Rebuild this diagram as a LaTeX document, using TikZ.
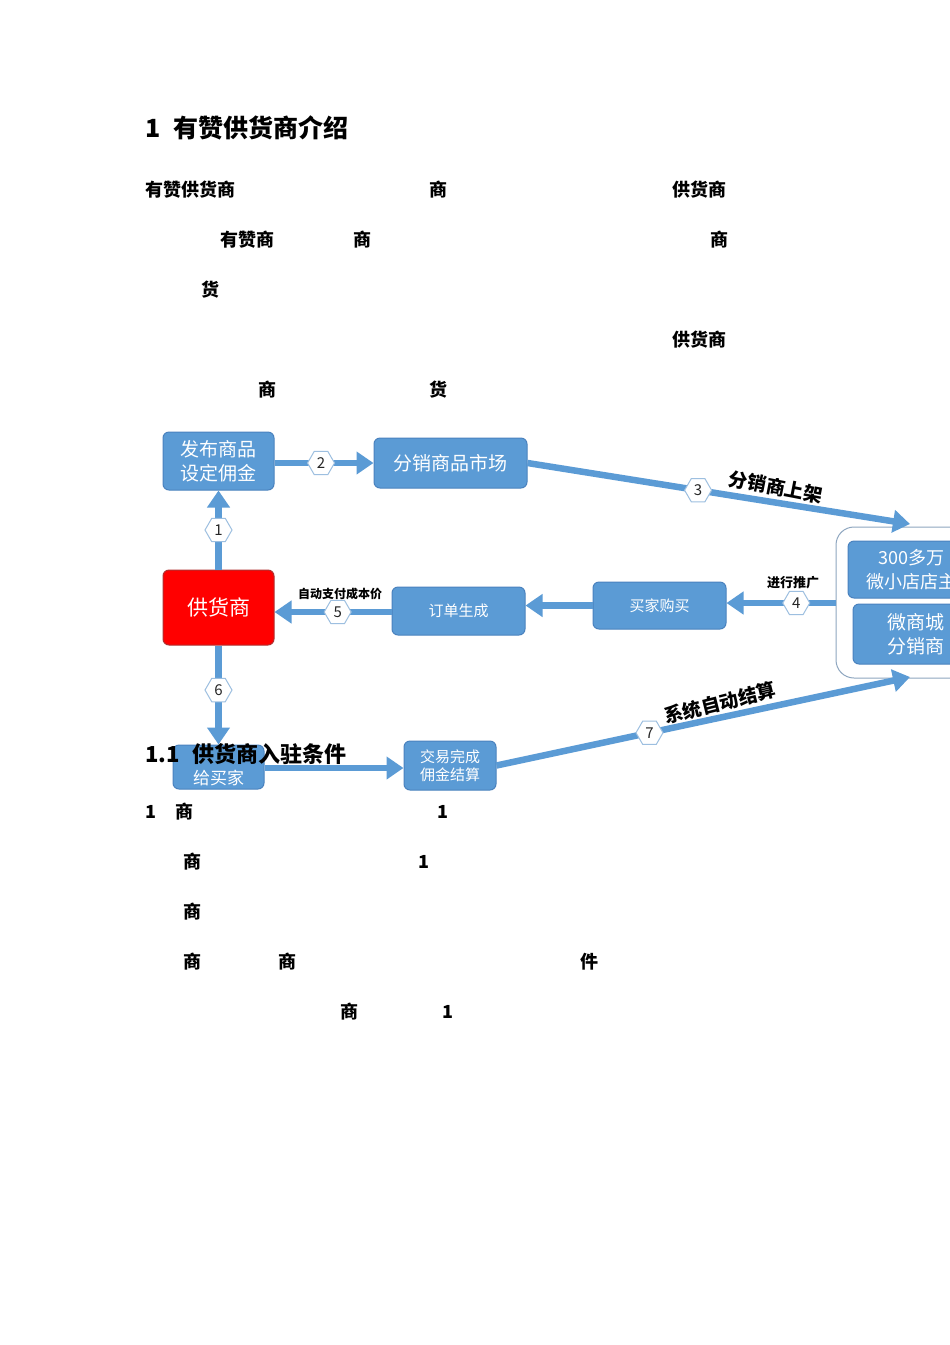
\documentclass[tikz,border=0pt]{standalone}
\usepackage{fontspec}
\setmainfont{Noto Sans CJK SC}
\usetikzlibrary{arrows.meta,shapes.geometric}
\definecolor{boxblue}{HTML}{5B9BD5}
\definecolor{boxline}{HTML}{4A82BE}
\definecolor{flowblue}{HTML}{5B9BD5}
\definecolor{hexline}{HTML}{9DBFE0}
\definecolor{redfill}{HTML}{FF0000}
\definecolor{redline}{HTML}{B03030}
\definecolor{frameline}{HTML}{8EA6C0}
\begin{document}
\begin{tikzpicture}[x=1pt,y=-1pt,
  box/.style={draw=boxline, fill=boxblue, rounded corners=6pt, line width=1pt,
    text=white, align=center, inner sep=0pt},
  hexnum/.style={shape=regular polygon, regular polygon sides=6, draw=hexline,
    fill=white, line width=1pt, minimum size=27pt, inner sep=0pt,
    font=\fontsize{15}{15}\selectfont, text=black!85},
  flow/.style={draw=flowblue, line width=6.5pt, -{Triangle[width=22pt,length=17pt]}},
  tag/.style={font=\bfseries\fontsize{13}{13}\selectfont, text=black},
  slant/.style={font=\bfseries\fontsize{19}{19}\selectfont, text=black},
  body/.style={anchor=west, font=\bfseries\fontsize{18}{18}\selectfont, text=black, inner sep=0pt},
  head/.style={anchor=west, inner sep=0pt, text=black}]
\useasboundingbox (0,0) rectangle (950,1345);
\fill[white] (0,0) rectangle (950,1345);

% section heading and text fragments above the chart
\node[head, font=\bfseries\fontsize{25}{25}\selectfont] (h1) at (145,128) {1\hspace{13pt}有赞供货商介绍};
\node[body] (a1) at (145,190) {有赞供货商};
\node[body] (a2) at (429,190) {商};
\node[body] (a3) at (672,190) {供货商};
\node[body] (b1) at (220,240) {有赞商};
\node[body] (b2) at (353,240) {商};
\node[body] (b3) at (710,240) {商};
\node[body] (c1) at (201,290) {货};
\node[body] (d1) at (672,340) {供货商};
\node[body] (e1) at (258,390) {商};
\node[body] (e2) at (429,390) {货};

% chart boxes
\node[box, minimum width=111pt, minimum height=58pt,
  font=\fontsize{19}{24}\selectfont] (pub) at (218.5,461) {发布商品\\设定佣金};
\node[box, minimum width=153pt, minimum height=50pt,
  font=\fontsize{19}{19}\selectfont] (pm) at (450.5,463) {分销商品市场};
\node[box, draw=redline, fill=redfill, minimum width=111pt, minimum height=75pt,
  font=\fontsize{21}{21}\selectfont] (sup) at (218.5,607.5) {供货商};
\node[box, minimum width=133pt, minimum height=48pt,
  font=\fontsize{15}{15}\selectfont] (ord) at (458.5,611) {订单生成};
\node[box, minimum width=133pt, minimum height=47pt,
  font=\fontsize{15}{15}\selectfont] (buy) at (659.5,605.5) {买家购买};
\node[draw=frameline, fill=white, rounded corners=18pt, line width=1pt,
  minimum width=160pt, minimum height=151pt] (mall) at (916,602.5) {};
\node[box, minimum width=127pt, minimum height=57pt,
  font=\fontsize{18}{24}\selectfont] (shop) at (911.5,569.5) {300多万\\微小店店主};
\node[box, minimum width=125pt, minimum height=60pt,
  font=\fontsize{19}{24}\selectfont] (dist) at (915.5,634) {微商城\\分销商};
\node[box, minimum width=91pt, minimum height=44pt,
  font=\fontsize{17}{22}\selectfont] (give) at (218.5,767) {\vphantom{给}\\给买家};
\node[box, minimum width=92pt, minimum height=49pt,
  font=\fontsize{15}{18}\selectfont] (deal) at (450,765.5) {交易完成\\佣金结算};

% free ends of the two long arrows
\coordinate (in3) at (910,524);
\coordinate (in7) at (910,677);

% connectors
\draw[flow] (sup.north) -- node[hexnum, pos=0.5] (n1) {1} (pub.south);
\draw[flow] (pub.east |- pm.west) -- node[hexnum, pos=0.47] (n2) {2} (pm.west);
\draw[flow] (pm.east) -- node[hexnum, pos=0.446] (n3) {3} (in3);
\draw[flow] (mall.west |- 0,603) -- node[hexnum, pos=0.36] (n4) {4} (buy.east |- 0,603);
\draw[flow] (buy.west) -- (ord.east |- buy.west);
\draw[flow] (ord.west |- 0,612) -- node[hexnum, pos=0.46] (n5) {5} (sup.east |- 0,612);
\draw[flow] (sup.south) -- node[hexnum, pos=0.45] (n6) {6} (give.north);
\draw[flow] (give.east |- 0,768) -- (deal.west |- 0,768);
\draw[flow] (deal.east) -- node[hexnum, pos=0.37] (n7) {7} (in7);

% connector captions
\node[slant, rotate=-11] (l3) at (776,487) {分销商上架};
\node[tag] (l4) at (793,583) {进行推广};
\node[tag, font=\bfseries\fontsize{12}{12}\selectfont] (l5) at (340,594) {自动支付成本价};
\node[slant, rotate=14] (l7) at (720,703) {系统自动结算};

% subsection heading and text fragments below the chart
\node[head, font=\bfseries\fontsize{22}{22}\selectfont] (h2) at (145,754) {1.1\hspace{13pt}供货商入驻条件};
\node[body] (f1) at (145,812) {1};
\node[body] (f2) at (175,812) {商};
\node[body] (f3) at (437,812) {1};
\node[body] (g1) at (183,862) {商};
\node[body] (g2) at (418,862) {1};
\node[body] (k1) at (183,912) {商};
\node[body] (m1) at (183,962) {商};
\node[body] (m2) at (278,962) {商};
\node[body] (m3) at (580,962) {件};
\node[body] (p1) at (340,1012) {商};
\node[body] (p2) at (442,1012) {1};
\end{tikzpicture}
\end{document}
